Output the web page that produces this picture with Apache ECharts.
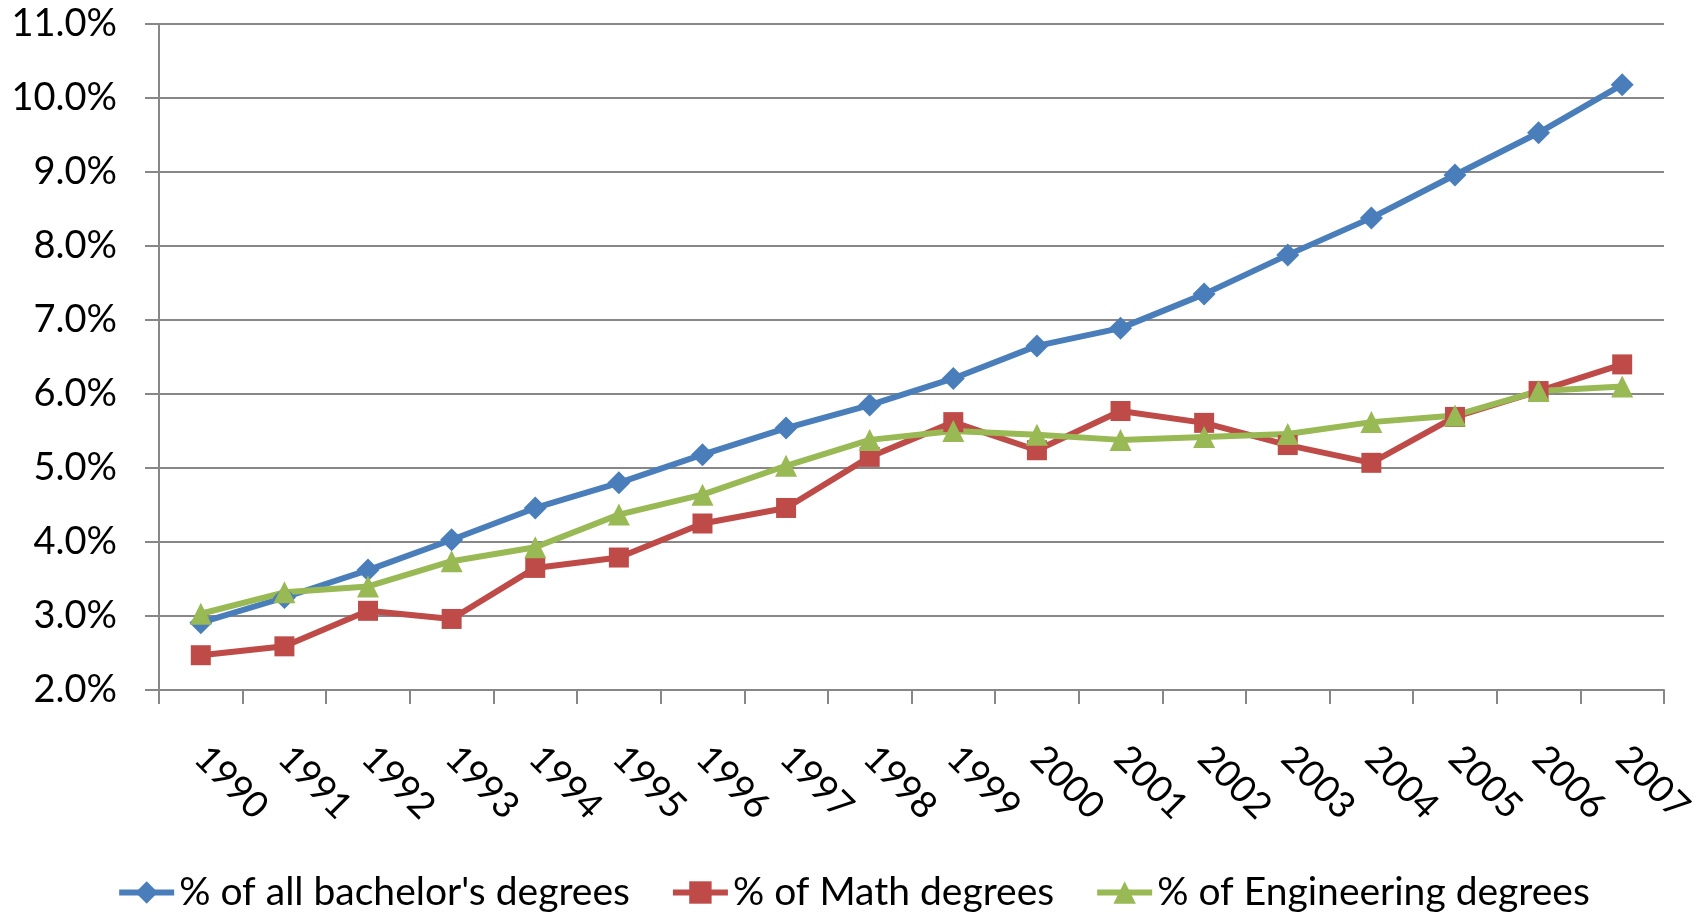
<!DOCTYPE html>
<html>
<head>
<meta charset="utf-8">
<script src="https://cdn.jsdelivr.net/npm/echarts@6/dist/echarts.min.js"></script>
<style>
html,body{margin:0;padding:0;background:#fff;}
#chart{width:1706px;height:912px;}
</style>
</head>
<body>
<div id="chart"></div>
<script>
const years = ['1990','1991','1992','1993','1994','1995','1996','1997','1998','1999','2000','2001','2002','2003','2004','2005','2006','2007'];
const allBachelors = [2.91,3.25,3.62,4.03,4.46,4.80,5.18,5.54,5.85,6.21,6.65,6.89,7.35,7.88,8.38,8.96,9.53,10.18];
const mathDegrees = [2.47,2.59,3.07,2.96,3.65,3.79,4.25,4.46,5.15,5.62,5.24,5.77,5.61,5.31,5.07,5.69,6.04,6.40];
const engDegrees = [3.03,3.32,3.40,3.74,3.93,4.37,4.64,5.03,5.38,5.50,5.45,5.38,5.42,5.46,5.62,5.71,6.04,6.10];
const seriesNames = ["% of all bachelor's degrees", "% of Math degrees", "% of Engineering degrees"];
const yMin = 2, yMax = 11, yStep = 1;

const font = 'Lato, "Open Sans", sans-serif';
const axisGray = '#878787';
const chart = echarts.init(document.getElementById('chart'));
chart.setOption({
  animation: false,
  backgroundColor: '#ffffff',
  textStyle: { fontFamily: font },
  grid: { left: 159, right: 42, top: 24, bottom: 222, containLabel: false },
  legend: {
    data: seriesNames,
    left: 'center',
    top: 868,
    itemWidth: 55,
    itemHeight: 28,
    itemGap: 40,
    lineStyle: { width: 6 },
    textStyle: { fontFamily: font, fontSize: 39, color: '#000' }
  },
  xAxis: {
    type: 'category',
    data: years,
    boundaryGap: true,
    axisLine: { lineStyle: { color: axisGray, width: 2 } },
    axisTick: { show: true, alignWithLabel: false, interval: 0, length: 14, lineStyle: { color: axisGray, width: 2 } },
    axisLabel: { interval: 0, rotate: -45, margin: 62, fontSize: 37, color: '#000', fontFamily: font },
    splitLine: { show: false }
  },
  yAxis: {
    type: 'value',
    min: yMin, max: yMax, interval: yStep,
    axisLine: { show: true, lineStyle: { color: axisGray, width: 2 } },
    axisTick: { show: true, length: 14, lineStyle: { color: axisGray, width: 2 } },
    axisLabel: { margin: 42, fontSize: 38, color: '#000', fontFamily: font, formatter: v => v.toFixed(1) + '%' },
    splitLine: { show: true, lineStyle: { color: axisGray, width: 2 } }
  },
  series: [
    { name: seriesNames[0], type: 'line', data: allBachelors, symbol: 'diamond', symbolSize: 23,
      lineStyle: { color: '#4A7EBB', width: 6 }, itemStyle: { color: '#4A7EBB' } },
    { name: seriesNames[1], type: 'line', data: mathDegrees, symbol: 'rect', symbolSize: 20,
      lineStyle: { color: '#BE4B48', width: 6 }, itemStyle: { color: '#BE4B48' } },
    { name: seriesNames[2], type: 'line', data: engDegrees, symbol: 'triangle', symbolSize: 22,
      lineStyle: { color: '#98B954', width: 6 }, itemStyle: { color: '#98B954' } }
  ]
});
</script>
</body>
</html>
